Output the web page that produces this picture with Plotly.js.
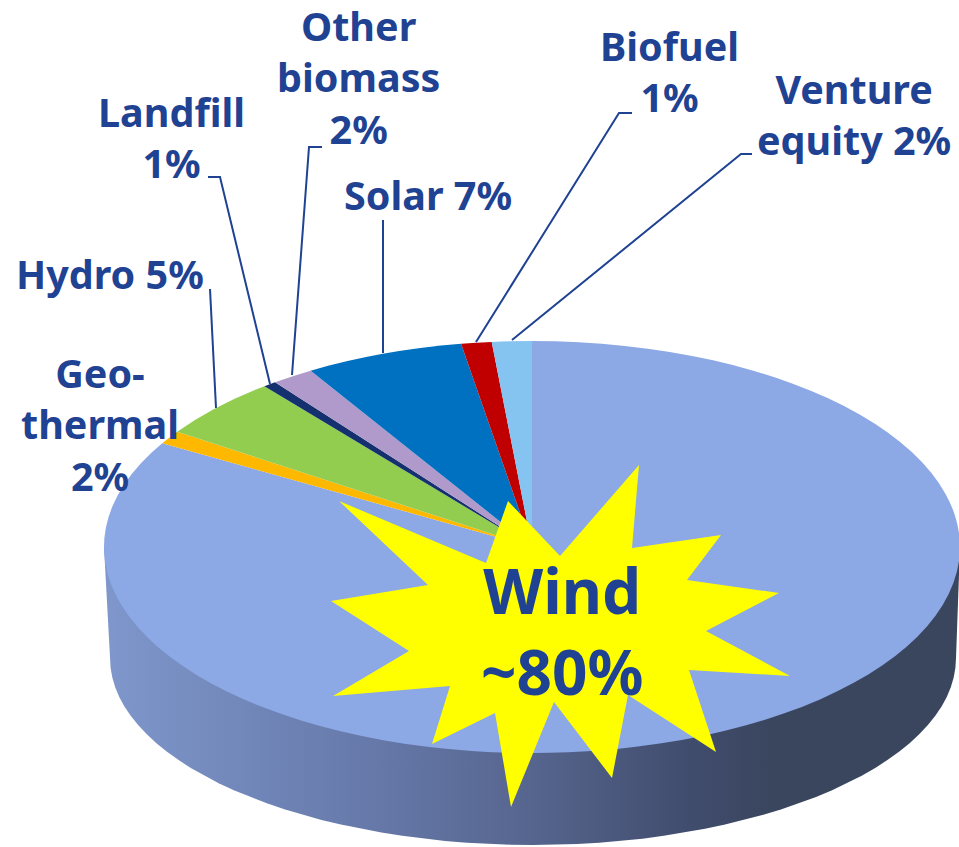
<!DOCTYPE html>
<html>
<head>
<meta charset="utf-8">
<script src="https://cdn.plot.ly/plotly-3.0.1.min.js"></script>
<style>html,body{margin:0;padding:0;background:#fff}#chart{width:959px;height:847px}</style>
</head>
<body>
<div id="chart"></div>
<script>
var sliceNames  = ['Wind','Geothermal','Hydro','Landfill','Other biomass','Solar','Biofuel','Venture equity'];
var sliceShares = [83.4, 1.05, 4.8, 0.5, 1.6, 6.0, 1.15, 1.5];
var sliceColors = ['#8CA8E5','#FFB800','#92CD50','#14306F','#B09ACB','#0070C0','#C00000','#85C4F0'];

// Printed labels
var labelTexts = ['Other<br>biomass<br>2%','Landfill<br>1%','Solar 7%','Hydro 5%','Geo-<br>thermal<br>2%','Biofuel<br>1%','Venture<br>equity 2%'];
var labelX = [358,171,428,110,100,669,854];
var labelY = [77,137,195,274,424,71,114];
var calloutText = 'Wind<br>~80%';

// Leader lines, one per label
var leaderX = [[322,309,292],[208,220,270],[383,383],[210,216],[632,619,476],[752,741,512]];
var leaderY = [[147,147,375],[177,177,384],[220,353],[289,408],[113,113,342],[154,154,340]];

// Starburst outline
var starX = [639,632,721,687,779,706,790,689,716,628,612,554,511,495,432,450,333,409,331,428,339,486,508,560];
var starY = [465,548,535,580,593,631,676,670,752,695,778,702,807,713,744,686,696,651,601,585,501,563,501,556];

var TEXT = '#1F4293';
var FONT = '"Noto Sans", sans-serif';

// Disc geometry of the tilted pie, in chart pixels
var upperDisc = {cx:532, cy:547, rx:428, ry:206};
var lowerDisc = {cx:533, cy:658, rx:423, ry:187};

var wallX = [upperDisc.cx-upperDisc.rx], wallY = [upperDisc.cy];
for (var a = 180; a >= 0; a -= 3) {
  var t = a*Math.PI/180;
  wallX.push(lowerDisc.cx + lowerDisc.rx*Math.cos(t));
  wallY.push(lowerDisc.cy + lowerDisc.ry*Math.sin(t));
}
wallX.push(upperDisc.cx+upperDisc.rx); wallY.push(upperDisc.cy);

var leadX = [], leadY = [];
leaderX.forEach(function(xs,i){ leadX = leadX.concat(xs,[null]); leadY = leadY.concat(leaderY[i],[null]); });

var starPath = starX.map(function(x,i){ return (i?'L':'M')+x+','+starY[i]; }).join(' ')+' Z';

var data = [
  {type:'scatter', x:wallX, y:wallY, mode:'lines', line:{width:0}, fill:'toself', hoverinfo:'skip', showlegend:false,
   fillgradient:{type:'horizontal', colorscale:[[0,'#7F97CC'],[0.32,'#6578A8'],[0.5,'#56658E'],[0.68,'#414D6E'],[0.78,'#3A455E'],[1,'#3A455E']]}},
  {type:'scatter', x:leadX, y:leadY, mode:'lines', line:{color:TEXT,width:2}, hoverinfo:'skip', showlegend:false},
  {type:'pie', labels:sliceNames, values:sliceShares, sort:false, direction:'clockwise', rotation:0,
   marker:{colors:sliceColors, line:{width:0}}, textinfo:'none', hoverinfo:'skip', showlegend:false,
   domain:{x:[0,1],y:[0,1]}}
];

var annotations = labelTexts.map(function(s,i){
  return {text:s, x:labelX[i], y:labelY[i], xref:'x', yref:'y', showarrow:false, align:'center',
          xanchor:'center', yanchor:'middle', font:{family:FONT,size:39.5,color:TEXT,weight:700}};
});
annotations.push({text:calloutText, x:562, y:630, xref:'x', yref:'y', showarrow:false, align:'center',
  xanchor:'center', yanchor:'middle', font:{family:FONT,size:62,color:TEXT,weight:700}});

var layout = {
  width:959, height:847, margin:{l:0,r:0,t:0,b:0}, paper_bgcolor:'#fff', plot_bgcolor:'rgba(0,0,0,0)', showlegend:false,
  xaxis:{range:[0,959], visible:false, fixedrange:true},
  yaxis:{range:[847,0], visible:false, fixedrange:true},
  shapes:[{type:'path', path:starPath, xref:'x', yref:'y', layer:'above', fillcolor:'#FFFF00', line:{width:0}}],
  annotations:annotations
};

Plotly.newPlot('chart', data, layout, {displayModeBar:false, staticPlot:true}).then(function(gd){
  // Plotly pies are always circular: tilt the pie onto the disc ellipse.
  var layer = gd.querySelector('.pielayer');
  var W = 959, H = 847, R = Math.min(W,H)/2;
  layer.setAttribute('transform',
    'translate('+upperDisc.cx+','+upperDisc.cy+') scale('+(upperDisc.rx/R)+','+(upperDisc.ry/R)+') translate('+(-W/2)+','+(-H/2)+')');
});
</script>
</body>
</html>
